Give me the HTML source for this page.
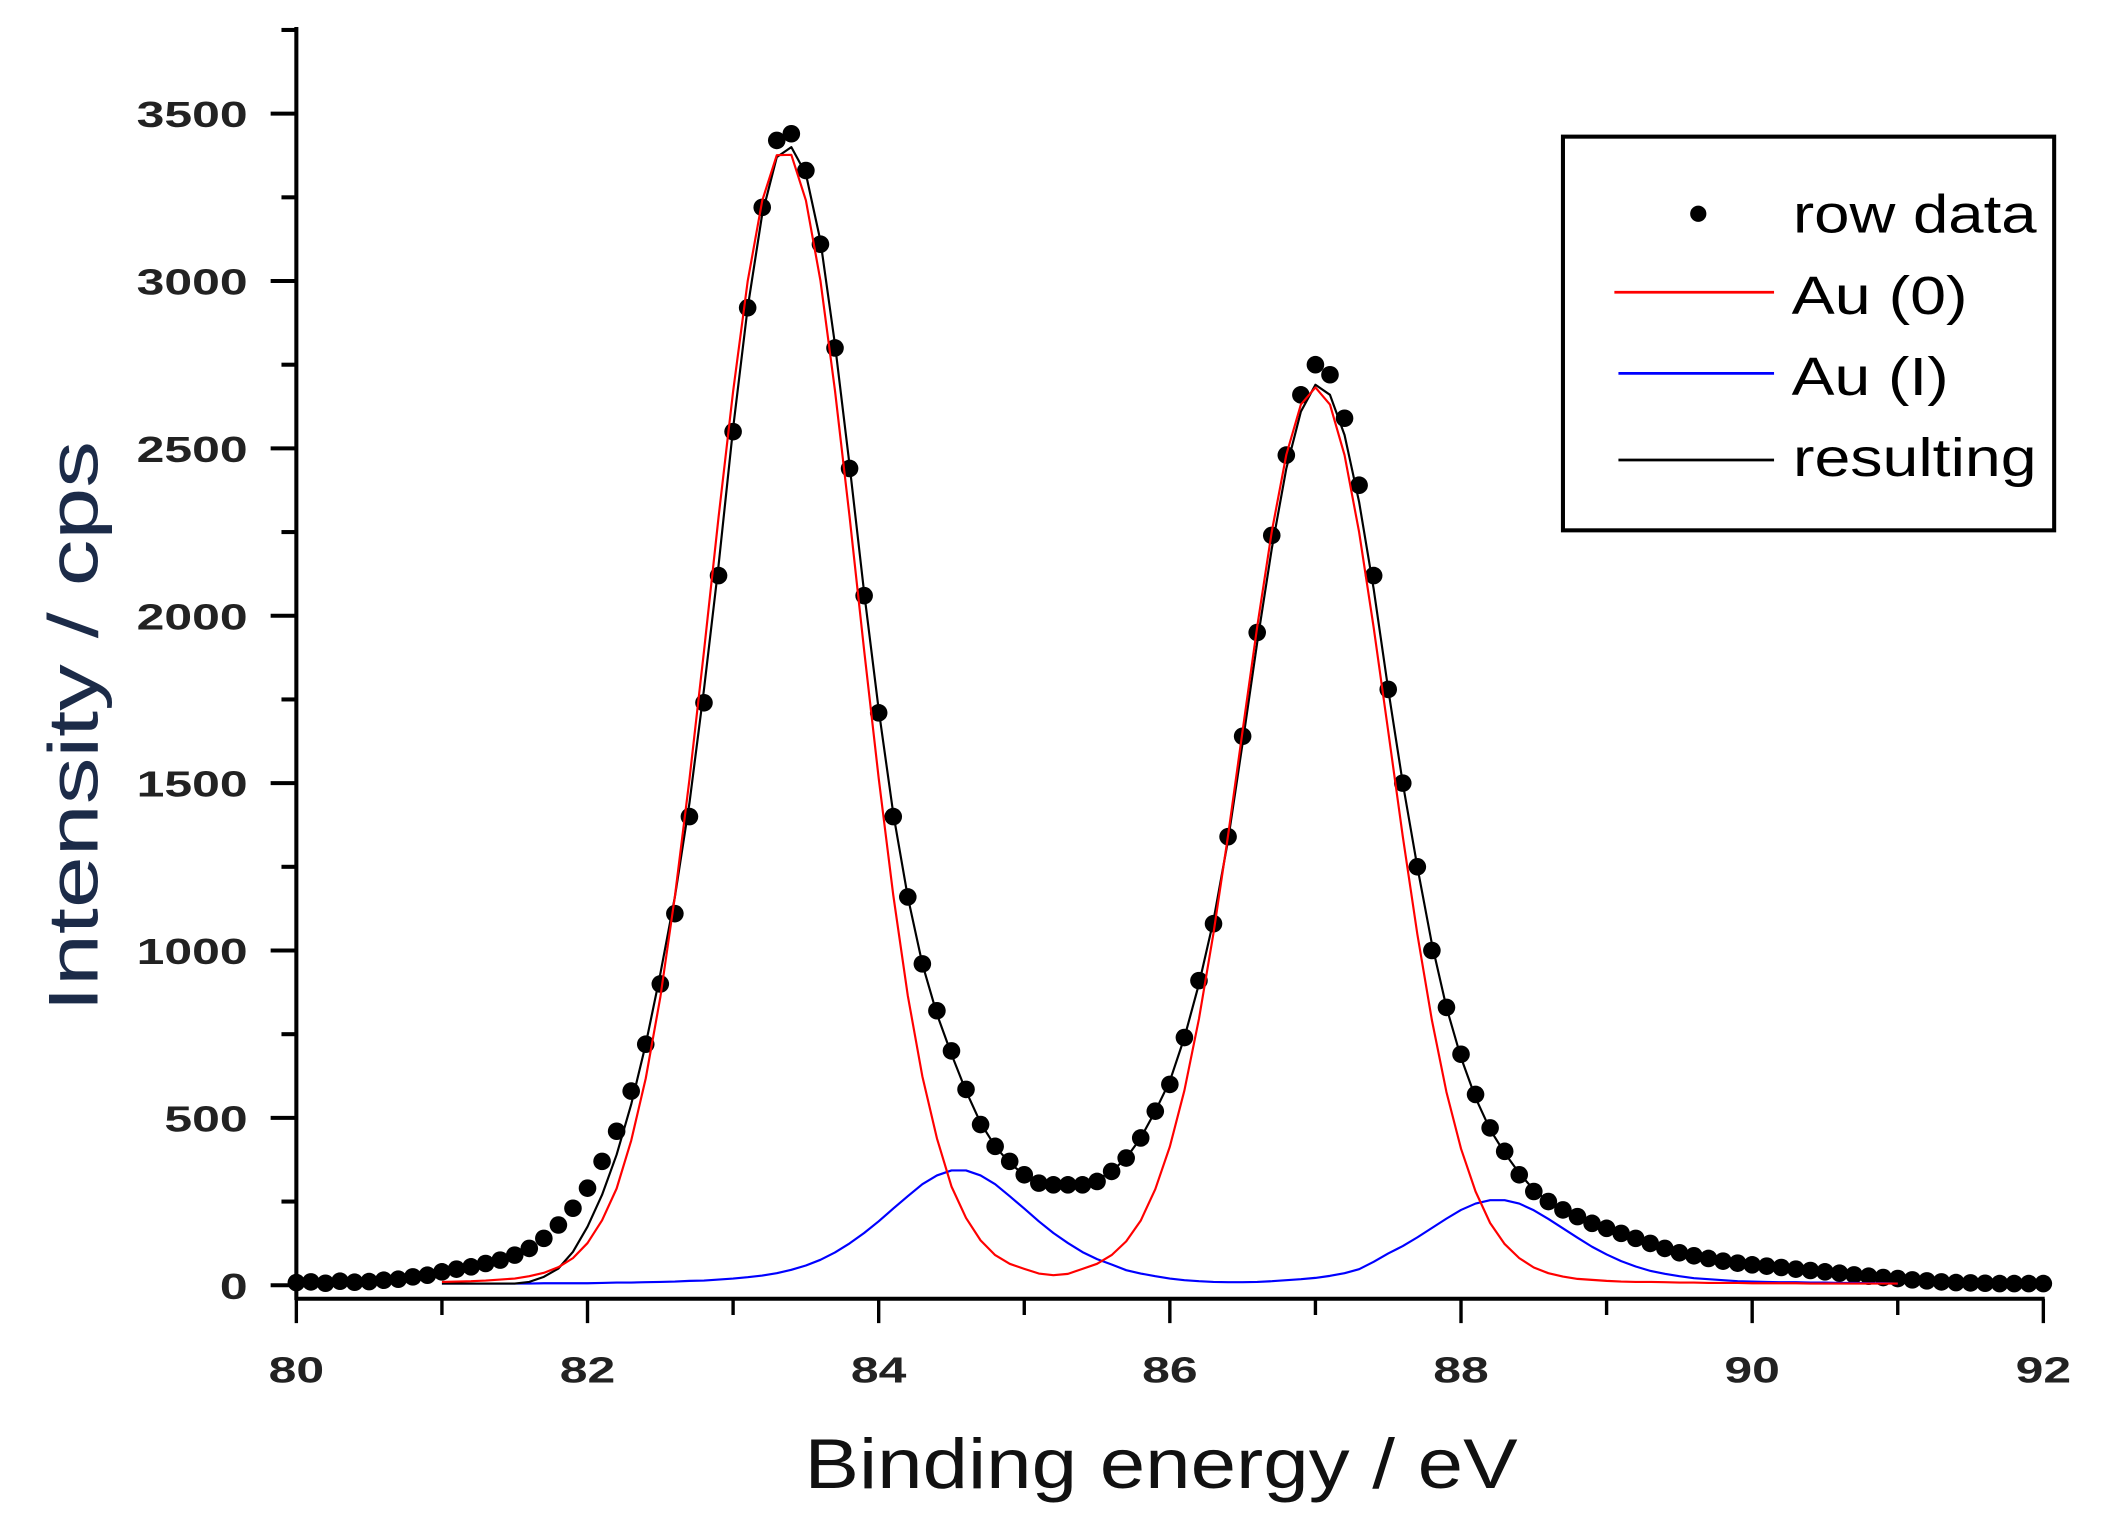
<!DOCTYPE html>
<html>
<head>
<meta charset="utf-8">
<style>
html,body{margin:0;padding:0;background:#fff;}
svg{display:block;}
text{font-family:"Liberation Sans",sans-serif;}
</style>
</head>
<body>
<svg id="chart" width="2111" height="1522" viewBox="0 0 1560 1125" preserveAspectRatio="none" xmlns="http://www.w3.org/2000/svg">
  <rect x="0" y="0" width="1560" height="1125" fill="#fff"/>
  <g id="plot"></g>
  <g id="axes"></g>
  <text x="858" y="1100" text-anchor="middle" font-size="52" textLength="527" lengthAdjust="spacingAndGlyphs" fill="#111">Binding energy / eV</text>
  <text x="0" y="0" transform="translate(72,537) rotate(-90)" text-anchor="middle" font-size="52" textLength="422" lengthAdjust="spacingAndGlyphs" fill="#1c2b48">Intensity / cps</text>
  <g>
    <rect x="1155" y="101" width="363" height="291" fill="#fff" stroke="#000" stroke-width="3"/>
    <circle cx="1255" cy="158" r="6" fill="#000"/>
    <text x="1325" y="172" font-size="40" textLength="180" lengthAdjust="spacingAndGlyphs">row data</text>
    <line x1="1193" y1="216" x2="1311" y2="216" stroke="#f00" stroke-width="2"/>
    <text x="1324" y="232" font-size="40" textLength="130" lengthAdjust="spacingAndGlyphs">Au (0)</text>
    <line x1="1196" y1="276" x2="1311" y2="276" stroke="#00f" stroke-width="2"/>
    <text x="1324" y="292" font-size="40" textLength="116" lengthAdjust="spacingAndGlyphs">Au (I)</text>
    <line x1="1196" y1="340" x2="1311" y2="340" stroke="#000" stroke-width="2"/>
    <text x="1325" y="352" font-size="40" textLength="180" lengthAdjust="spacingAndGlyphs">resulting</text>
  </g>
</svg>
<script>
// ---- data ----
const rawStartE = 80.0;
const fitStartE = 81.0;
const stepE = 0.1;
const xTickLabels = ["80","82","84","86","88","90","92"];
const xTickValues = [80,82,84,86,88,90,92];
const yTickLabels = ["0","500","1000","1500","2000","2500","3000","3500"];
const yTickValues = [0,500,1000,1500,2000,2500,3000,3500];
const rawIntensity = [8,10,6,12,9,11,15,18,25,30,
40,48,55,65,75,90,110,140,180,230,
290,370,460,580,720,900,1110,1400,1740,2120,
2550,2920,3220,3420,3440,3330,3110,2800,2440,2060,
1710,1400,1160,960,820,700,585,480,415,370,
330,305,300,300,300,310,340,380,440,520,
600,740,910,1080,1340,1640,1950,2240,2480,2660,
2750,2720,2590,2390,2120,1780,1500,1250,1000,830,
690,570,470,400,330,280,250,225,205,185,
170,155,140,125,110,97,88,80,72,66,
61,57,53,48,44,40,36,31,27,23,
20,16,13,10,8,7,6,5,5,5,5];
const au0Intensity = [10,11,12,14,17,20,27,37,54,81,
126,194,289,432,618,860,1161,1511,1894,2294,
2670,2999,3240,3376,3377,3241,3001,2672,2296,1897,
1515,1166,865,624,439,295,201,134,90,64,
49,35,30,34,49,64,90,131,193,287,
414,582,796,1052,1344,1657,1967,2251,2481,2631,
2682,2631,2480,2250,1965,1655,1341,1049,792,577,
408,280,186,123,81,53,36,26,19,16,
13,11,10,10,9,8,8,7,7,7,
6,6,6,6,5,5,5,5,5,5,5];
const au1Intensity = [5,5,5,5,5,5,5,6,6,6,
6,7,8,8,9,10,11,13,14,17,
20,24,29,36,46,59,76,98,125,156,
191,229,266,302,328,343,343,328,302,266,
229,191,156,126,99,78,62,45,35,27,
20,15,12,10,9,9,10,12,15,18,
22,28,36,48,70,95,117,143,171,199,
225,244,254,254,244,224,198,170,142,115,
92,72,56,43,34,27,21,18,15,12,
11,10,9,9,8,8,7,7,6,6,5];
const resultingIntensity = [5,5,5,5,5,5,10,25,50,100,
175,270,390,540,720,930,1160,1440,1780,2150,
2560,2920,3200,3370,3400,3320,3120,2810,2450,2070,
1720,1410,1160,960,810,690,580,485,415,365,
330,308,300,300,303,315,340,380,440,520,
610,740,900,1090,1330,1620,1920,2200,2440,2610,
2690,2660,2540,2340,2080,1780,1500,1250,1020,830,
680,560,465,395,335,285,250,222,200,182,
166,152,138,124,112,100,90,82,75,69,
63,58,53,48,44,40,36,32,28,25,22];

// ---- scales ----
const NS = "http://www.w3.org/2000/svg";
const X0 = 219, X1 = 1510, Y0 = 950, Y3500 = 84;
function xScale(e){ return X0 + (e - 80) * (X1 - X0) / 12; }
function yScale(v){ return Y0 - v * (Y0 - Y3500) / 3500; }
function mk(tag, attrs){ const el = document.createElementNS(NS, tag); for (const k in attrs) el.setAttribute(k, attrs[k]); return el; }

const plot = document.getElementById('plot');
const axes = document.getElementById('axes');

// raw data markers
rawIntensity.forEach((v, i) => {
  const e = rawStartE + i * stepE;
  const c = mk('circle', {cx: xScale(e).toFixed(2), cy: yScale(v).toFixed(2), r: 6.5, fill: '#000'});
  
  
  plot.appendChild(c);
});

function drawLine(arr, color, name){
  const pts = arr.map((v, i) => xScale(fitStartE + i * stepE).toFixed(2) + ',' + yScale(v).toFixed(2)).join(' ');
  const pl = mk('polyline', {points: pts, fill: 'none', stroke: color, 'stroke-width': 1.6, 'stroke-linejoin': 'round'});
  
  
  plot.appendChild(pl);
}
drawLine(au1Intensity, '#0000ff', 'au1-fit-line');
drawLine(resultingIntensity, '#000000', 'resulting-fit-line');
drawLine(au0Intensity, '#ff0000', 'au0-fit-line');

// axes lines
const yAxis = mk('line', {x1: X0, y1: 20, x2: X0, y2: 961, stroke: '#000', 'stroke-width': 3});


axes.appendChild(yAxis);
const xAxis = mk('line', {x1: X0 - 1, y1: 960, x2: X1 + 1, y2: 960, stroke: '#000', 'stroke-width': 3});


axes.appendChild(xAxis);

// y ticks
yTickValues.forEach((v, i) => {
  const y = yScale(v);
  const t = mk('line', {x1: 200, y1: y, x2: X0, y2: y, stroke: '#000', 'stroke-width': 3});
  
  
  axes.appendChild(t);
  const m = mk('line', {x1: 208, y1: yScale(v + 250), x2: X0, y2: yScale(v + 250), stroke: '#000', 'stroke-width': 3});
  
  
  axes.appendChild(m);
  const lbl = yTickLabels[i];
  const tx = mk('text', {x: 183, y: y + 10, 'text-anchor': 'end', 'font-size': 27, 'font-weight': 'bold', fill: '#222', textLength: lbl.length * 20.5, lengthAdjust: 'spacingAndGlyphs'});
  tx.textContent = lbl;
  
  
  axes.appendChild(tx);
});

// x ticks
xTickValues.forEach((v, i) => {
  const x = xScale(v);
  const t = mk('line', {x1: x, y1: 960, x2: x, y2: 978, stroke: '#000', 'stroke-width': 2.5});
  
  
  axes.appendChild(t);
  if (v < 92) {
    const xm = xScale(v + 1);
    const m = mk('line', {x1: xm, y1: 960, x2: xm, y2: 972, stroke: '#000', 'stroke-width': 2.5});
    
    
    axes.appendChild(m);
  }
  const lbl = xTickLabels[i];
  const tx = mk('text', {x: x, y: 1022, 'text-anchor': 'middle', 'font-size': 27, 'font-weight': 'bold', fill: '#222', textLength: lbl.length * 20.5, lengthAdjust: 'spacingAndGlyphs'});
  tx.textContent = lbl;
  
  
  axes.appendChild(tx);
});
</script>
</body>
</html>
